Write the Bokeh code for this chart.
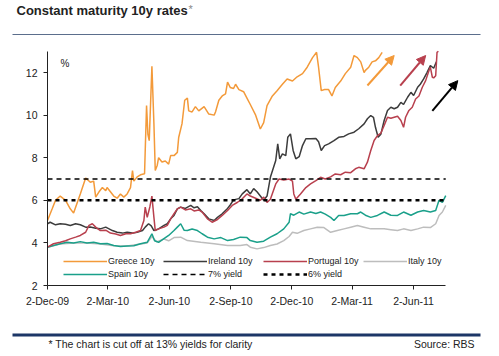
import pandas as pd
from bokeh.plotting import figure
from bokeh.layouts import column
from bokeh.models import (Range1d, FixedTicker, Label, Legend, LegendItem,
                          BoxAnnotation, Arrow, NormalHead)
from bokeh.embed import file_html
from bokeh.resources import INLINE

# ---------------- data ----------------
greece_dates = ["2009-12-02","2009-12-09","2009-12-14","2009-12-21","2009-12-29","2010-01-05","2010-01-10",
    "2010-01-15","2010-01-20","2010-01-28","2010-02-04","2010-02-09","2010-02-12","2010-02-17","2010-02-22",
    "2010-02-27","2010-03-01","2010-03-06","2010-03-11","2010-03-16","2010-03-21","2010-03-26","2010-03-31",
    "2010-04-05","2010-04-08","2010-04-10","2010-04-15","2010-04-20","2010-04-26","2010-04-29","2010-05-01",
    "2010-05-03","2010-05-07","2010-05-10","2010-05-12","2010-05-15","2010-05-17","2010-05-22","2010-05-27",
    "2010-06-01","2010-06-04","2010-06-09","2010-06-14","2010-06-16","2010-06-21","2010-06-25","2010-06-29",
    "2010-07-01","2010-07-06","2010-07-11","2010-07-16","2010-07-24","2010-07-31","2010-08-08","2010-08-10",
    "2010-08-15","2010-08-20","2010-08-25","2010-08-28","2010-09-01","2010-09-06","2010-09-09","2010-09-14",
    "2010-09-21","2010-09-26","2010-10-01","2010-10-09","2010-10-16","2010-10-21","2010-10-26","2010-11-03",
    "2010-11-10","2010-11-18","2010-11-25","2010-12-03","2010-12-10","2010-12-18","2010-12-25","2011-01-02",
    "2011-01-08","2011-01-11","2011-01-15","2011-01-20","2011-01-26","2011-01-31","2011-02-05","2011-02-13",
    "2011-02-20","2011-02-28","2011-03-05","2011-03-10","2011-03-15","2011-03-20","2011-03-22","2011-03-27",
    "2011-04-01","2011-04-06","2011-04-11","2011-04-16"]
greece_vals = [5.05,5.6,6.0,6.2,6.0,5.6,5.4,5.85,6.3,7.05,6.85,6.9,6.15,6.4,6.6,6.45,6.6,6.4,6.2,6.1,6.3,
    6.15,6.3,6.6,7.4,6.9,7.1,7.2,7.25,10.45,9.1,8.8,12.3,9.6,7.4,7.65,8.0,7.8,7.85,7.7,8.1,8.1,8.25,8.95,
    9.6,10.7,10.8,10.2,10.15,10.4,10.2,10.4,10.05,10.0,10.15,10.7,10.9,11.0,11.55,11.3,11.25,11.45,11.2,
    11.1,10.8,10.5,10.0,9.35,9.65,10.45,10.9,11.15,11.45,11.7,11.6,11.8,11.95,12.25,12.7,12.95,12.25,
    11.15,11.2,11.2,10.9,11.3,11.6,11.95,12.25,12.8,12.7,12.5,12.0,12.1,12.25,12.5,12.55,12.7,12.95]

ireland_dates = ["2009-12-02","2009-12-06","2009-12-14","2009-12-21","2009-12-29","2010-01-05","2010-01-13",
    "2010-01-20","2010-01-28","2010-02-04","2010-02-12","2010-02-19","2010-02-27","2010-03-04","2010-03-09",
    "2010-03-16","2010-03-24","2010-03-31","2010-04-08","2010-04-15","2010-04-23","2010-04-27","2010-05-02",
    "2010-05-06","2010-05-10","2010-05-17","2010-05-25","2010-05-30","2010-06-04","2010-06-09","2010-06-14",
    "2010-06-19","2010-06-26","2010-07-04","2010-07-09","2010-07-14","2010-07-19","2010-07-24","2010-07-31",
    "2010-08-08","2010-08-13","2010-08-20","2010-08-28","2010-09-01","2010-09-06","2010-09-14","2010-09-19",
    "2010-09-26","2010-10-01","2010-10-06","2010-10-11","2010-10-16","2010-10-21","2010-10-26","2010-10-31",
    "2010-11-08","2010-11-11","2010-11-14","2010-11-18","2010-11-23","2010-11-26","2010-11-30","2010-12-04",
    "2010-12-08","2010-12-13","2010-12-18","2010-12-23","2010-12-30","2011-01-07","2011-01-11","2011-01-15",
    "2011-01-20","2011-01-26","2011-02-03","2011-02-10","2011-02-18","2011-02-25","2011-03-05","2011-03-12",
    "2011-03-20","2011-03-25","2011-03-30","2011-04-03","2011-04-06","2011-04-10","2011-04-14","2011-04-19",
    "2011-04-24","2011-04-29","2011-05-04","2011-05-09","2011-05-14","2011-05-18","2011-05-24","2011-05-29",
    "2011-06-02","2011-06-08","2011-06-12","2011-06-17","2011-06-22","2011-06-27","2011-07-02","2011-07-06"]
ireland_vals = [4.9,4.97,4.85,4.9,4.88,4.82,4.9,4.85,4.74,4.75,4.69,4.66,4.74,4.66,4.58,4.5,4.46,4.5,4.46,
    4.5,4.58,4.74,4.9,4.8,4.58,4.66,4.82,4.9,5.13,5.29,5.6,5.68,5.62,5.76,5.65,5.7,5.52,5.37,5.13,5.05,5.2,
    5.37,5.62,5.78,6.02,6.08,6.3,6.5,6.3,6.55,6.4,6.2,6.0,6.2,7.08,7.87,8.65,7.95,8.18,8.1,8.96,9.12,8.34,
    7.95,8.05,8.57,8.89,8.89,8.9,8.75,8.34,8.57,8.65,8.8,8.96,9.0,9.12,9.2,9.36,9.59,9.83,9.98,9.9,9.43,
    8.96,9.1,9.75,10.22,10.37,10.3,10.37,10.6,10.5,10.84,11.07,10.92,11.31,11.45,11.7,12.0,12.33,12.2,12.5]

portugal_dates = ["2009-12-02","2009-12-11","2009-12-21","2009-12-29","2010-01-05","2010-01-13","2010-01-20",
    "2010-01-28","2010-02-02","2010-02-07","2010-02-12","2010-02-19","2010-02-27","2010-03-06","2010-03-14",
    "2010-03-21","2010-03-29","2010-04-05","2010-04-13","2010-04-20","2010-04-25","2010-04-27","2010-04-30",
    "2010-05-04","2010-05-07","2010-05-10","2010-05-12","2010-05-17","2010-05-25","2010-05-30","2010-06-04",
    "2010-06-09","2010-06-14","2010-06-19","2010-06-26","2010-07-04","2010-07-09","2010-07-16","2010-07-21",
    "2010-07-29","2010-08-05","2010-08-13","2010-08-20","2010-08-28","2010-09-04","2010-09-12","2010-09-19",
    "2010-09-26","2010-10-01","2010-10-09","2010-10-16","2010-10-21","2010-10-26","2010-10-31","2010-11-08",
    "2010-11-13","2010-11-20","2010-11-28","2010-12-03","2010-12-05","2010-12-08","2010-12-15","2010-12-23",
    "2010-12-30","2011-01-07","2011-01-14","2011-01-21","2011-01-29","2011-02-05","2011-02-13","2011-02-20",
    "2011-02-28","2011-03-07","2011-03-12","2011-03-20","2011-03-25","2011-03-30","2011-04-04","2011-04-09",
    "2011-04-14","2011-04-19","2011-04-24","2011-04-29","2011-05-04","2011-05-09","2011-05-14","2011-05-18",
    "2011-05-21","2011-05-26","2011-05-31","2011-06-05","2011-06-10","2011-06-15","2011-06-20","2011-06-25",
    "2011-06-27","2011-06-30","2011-07-02","2011-07-05","2011-07-07","2011-07-09"]
portugal_vals = [3.8,3.96,4.03,4.1,4.19,4.27,4.35,4.5,4.82,4.9,4.74,4.58,4.6,4.46,4.42,4.35,4.43,4.43,4.5,
    4.58,5.05,5.68,5.2,5.7,6.2,5.2,4.58,4.66,4.74,4.82,5.13,5.37,5.6,5.68,5.55,5.6,5.5,5.55,5.45,5.13,4.97,
    5.1,5.29,5.52,5.76,5.91,6.07,6.3,6.2,6.1,6.0,6.15,5.9,6.05,6.77,7.0,6.95,7.0,6.9,6.3,6.05,6.3,6.6,6.77,
    6.93,7.08,7.0,7.1,7.24,7.2,7.32,7.3,7.48,7.55,7.48,7.79,8.34,8.81,9.04,9.15,9.51,9.9,9.85,9.9,9.95,9.75,
    9.43,9.9,10.22,10.37,10.76,10.9,11.31,11.62,12.1,12.25,11.78,11.75,11.85,12.95,13.0]

spain_dates = ["2009-12-02","2009-12-11","2009-12-21","2009-12-31","2010-01-10","2010-01-20","2010-01-30",
    "2010-02-09","2010-02-19","2010-03-01","2010-03-11","2010-03-21","2010-03-31","2010-04-10","2010-04-20",
    "2010-04-30","2010-05-07","2010-05-11","2010-05-17","2010-05-25","2010-06-01","2010-06-09","2010-06-14",
    "2010-06-19","2010-06-24","2010-06-29","2010-07-06","2010-07-14","2010-07-21","2010-07-29","2010-08-08",
    "2010-08-18","2010-08-28","2010-09-06","2010-09-16","2010-09-26","2010-10-01","2010-10-11","2010-10-21",
    "2010-10-31","2010-11-10","2010-11-20","2010-11-28","2010-11-30","2010-12-05","2010-12-13","2010-12-20",
    "2010-12-30","2011-01-07","2011-01-14","2011-01-21","2011-01-29","2011-02-03","2011-02-10","2011-02-18",
    "2011-02-28","2011-03-10","2011-03-15","2011-03-22","2011-03-30","2011-04-09","2011-04-19","2011-04-29",
    "2011-05-09","2011-05-18","2011-05-29","2011-06-08","2011-06-17","2011-06-27","2011-07-05","2011-07-10",
    "2011-07-15","2011-07-20"]
spain_vals = [3.8,3.88,3.96,4.03,4.0,4.06,4.0,4.03,3.96,3.97,3.88,3.83,3.86,3.87,3.96,4.03,4.43,4.1,4.03,
    4.2,4.35,4.58,4.74,4.9,4.6,4.58,4.65,4.58,4.43,4.27,4.19,4.25,4.11,4.16,4.27,4.25,4.11,4.03,4.08,4.27,
    4.43,4.66,4.97,5.37,5.3,5.45,5.35,5.45,5.38,5.45,5.35,5.2,5.05,5.29,5.29,5.37,5.37,5.45,5.3,5.2,5.29,
    5.45,5.3,5.29,5.45,5.3,5.45,5.52,5.45,5.52,6.0,5.9,6.22]

italy_dates = ["2009-12-02","2009-12-21","2010-01-10","2010-01-30","2010-02-19","2010-03-11","2010-03-31",
    "2010-04-20","2010-04-30","2010-05-07","2010-05-14","2010-05-25","2010-06-01","2010-06-09","2010-06-19",
    "2010-06-29","2010-07-19","2010-08-08","2010-08-28","2010-09-16","2010-09-26","2010-10-01","2010-10-11",
    "2010-10-21","2010-10-31","2010-11-10","2010-11-20","2010-11-28","2010-12-03","2010-12-10","2010-12-20",
    "2010-12-30","2011-01-09","2011-01-19","2011-01-29","2011-02-08","2011-02-18","2011-02-28","2011-03-10",
    "2011-03-20","2011-03-30","2011-04-09","2011-04-19","2011-04-29","2011-05-09","2011-05-18","2011-05-29",
    "2011-06-08","2011-06-17","2011-06-27","2011-07-05","2011-07-10","2011-07-15","2011-07-20"]
italy_vals = [3.79,3.95,3.99,4.0,3.95,3.87,3.85,3.95,4.0,4.3,4.05,4.18,4.1,4.25,4.27,4.11,4.03,3.96,3.88,
    3.88,3.92,3.8,3.72,3.78,3.88,3.95,4.11,4.3,4.5,4.45,4.58,4.66,4.74,4.72,4.5,4.58,4.66,4.74,4.82,4.74,
    4.66,4.66,4.66,4.62,4.58,4.66,4.58,4.66,4.74,4.72,4.9,5.29,5.45,5.76]

threshold_dates = ["2009-12-02", "2011-07-20"]
yield7_vals = [7.0, 7.0]
yield6_vals = [6.0, 6.0]

tick_dates = ["2009-12-02","2010-03-02","2010-06-02","2010-09-02","2010-12-02","2011-03-02","2011-06-02"]
tick_labels = ["2-Dec-09","2-Mar-10","2-Jun-10","2-Sep-10","2-Dec-10","2-Mar-11","2-Jun-11"]
y_ticks = [2, 4, 6, 8, 10, 12]

# trend arrows: (start date, start value, end date, end value, colour)
arrow_specs = [
    ("2011-03-25", 11.39, "2011-05-04", 12.8, "#F39A3A"),
    ("2011-05-13", 11.39, "2011-06-20", 12.8, "#B8404E"),
    ("2011-06-30", 10.2, "2011-08-07", 11.62, "#000000"),
]

FONT = "Liberation Sans"
W = 499

def dt(lst):
    return pd.to_datetime(lst)

def ms(s):
    return pd.Timestamp(s).value // 10**6

def bare_fig(h):
    f = figure(width=W, height=h, output_backend="svg", toolbar_location=None,
               x_axis_location=None, y_axis_location=None,
               x_range=Range1d(0, W), y_range=Range1d(0, h),
               min_border=0)
    f.frame_align = False
    f.outline_line_color = None
    f.grid.grid_line_color = None
    f.background_fill_color = "white"
    f.border_fill_color = "white"
    return f

def lab(fig, text, x, y, size, bold=False, color="#222222", align="left"):
    fig.add_layout(Label(x=x, y=y, x_units="screen", y_units="screen", text=text,
                         text_font=FONT, text_font_size=size,
                         text_font_style="bold" if bold else "normal",
                         text_color=color, text_align=align, text_baseline="middle"))

def hbar(fig, left, right, bottom, top, color):
    fig.add_layout(BoxAnnotation(left=left, right=right, bottom=bottom, top=top,
                                 left_units="screen", right_units="screen",
                                 bottom_units="screen", top_units="screen",
                                 fill_color=color, fill_alpha=1, line_color=None))

# ---------------- header ----------------
head = bare_fig(40)
lab(head, "Constant maturity 10y rates", 16, 30, "13px", bold=True)
lab(head, "*", 188, 32, "11px", color="#888888")
hbar(head, 12, 480, 5.5, 6.5, "#5B6E8C")

# ---------------- main chart ----------------
p = figure(width=W, height=275, output_backend="svg", toolbar_location=None,
           x_axis_type="datetime",
           x_range=Range1d(ms("2009-12-02"), ms("2011-08-26")),
           y_range=Range1d(2, 13.27),
           min_border_left=47, min_border_right=29, min_border_top=5, min_border_bottom=30)
p.frame_align = False
p.outline_line_color = None
p.grid.grid_line_color = None
p.background_fill_color = "white"
p.border_fill_color = "white"

GREECE, IRELAND, PORTUGAL, ITALY, SPAIN = "#F39A3A", "#3C3C3C", "#B8404E", "#BDBDBD", "#1AA08A"
lw = 1.5
r_it = p.line(dt(italy_dates), italy_vals, line_color=ITALY, line_width=lw)
r_sp = p.line(dt(spain_dates), spain_vals, line_color=SPAIN, line_width=lw)
r_ie = p.line(dt(ireland_dates), ireland_vals, line_color=IRELAND, line_width=lw)
r_pt = p.line(dt(portugal_dates), portugal_vals, line_color=PORTUGAL, line_width=lw)
r_gr = p.line(dt(greece_dates), greece_vals, line_color=GREECE, line_width=lw)
r_y7 = p.line(dt(threshold_dates), yield7_vals, line_color="black", line_width=1.6, line_dash="5 4")
r_y6 = p.line(dt(threshold_dates), yield6_vals, line_color="black", line_width=2.6, line_dash="4 4")

for xs, ys, xe, ye, c in arrow_specs:
    p.add_layout(Arrow(x_start=ms(xs), y_start=ys, x_end=ms(xe), y_end=ye,
                       line_color=c, line_width=2,
                       end=NormalHead(size=9, fill_color=c, line_color=c)))

xa = p.xaxis[0]
xa.ticker = FixedTicker(ticks=[ms(d) for d in tick_dates])
xa.major_label_overrides = {ms(d): l for d, l in zip(tick_dates, tick_labels)}
xa.bounds = (ms("2009-12-02"), ms("2011-07-20"))
ya = p.yaxis[0]
ya.ticker = FixedTicker(ticks=y_ticks)
ya.bounds = (2, 13)
for ax in (xa, ya):
    ax.axis_line_color = "#222222"
    ax.axis_line_width = 1
    ax.major_tick_line_color = "#222222"
    ax.major_tick_out = 4
    ax.major_tick_in = 0
    ax.minor_tick_line_color = None
    ax.major_label_text_font = FONT
    ax.major_label_text_font_size = "10.5px"
    ax.major_label_text_color = "#222222"
xa.major_label_standoff = 5
ya.major_label_standoff = 6

legend = Legend(items=[
    LegendItem(label="Greece 10y", renderers=[r_gr]),
    LegendItem(label="Ireland 10y", renderers=[r_ie]),
    LegendItem(label="Portugal 10y", renderers=[r_pt]),
    LegendItem(label="Italy 10y", renderers=[r_it]),
    LegendItem(label="Spain 10y", renderers=[r_sp]),
    LegendItem(label="7% yield", renderers=[r_y7]),
    LegendItem(label="6% yield", renderers=[r_y6]),
], orientation="horizontal", ncols=4, location=(16, 5),
   glyph_width=44, glyph_height=12, label_height=12, label_width=54,
   label_standoff=1, spacing=1, padding=0, margin=0,
   border_line_color=None, background_fill_alpha=0,
   label_text_font=FONT, label_text_font_size="9px", label_text_color="#222222")
p.add_layout(legend, "center")

lab(p, "%", 13, 222, "10px")

# ---------------- footer ----------------
foot = bare_fig(41)
hbar(foot, 12, 480, 20, 23, "#1C3767")
lab(foot, "* The chart is cut off at 13% yields for clarity", 48, 13, "10.5px")
lab(foot, "Source:  RBS", 477, 13, "10.5px", align="right")

layout = column(head, p, foot, spacing=0)
open("out.html", "w").write(file_html(layout, INLINE))
